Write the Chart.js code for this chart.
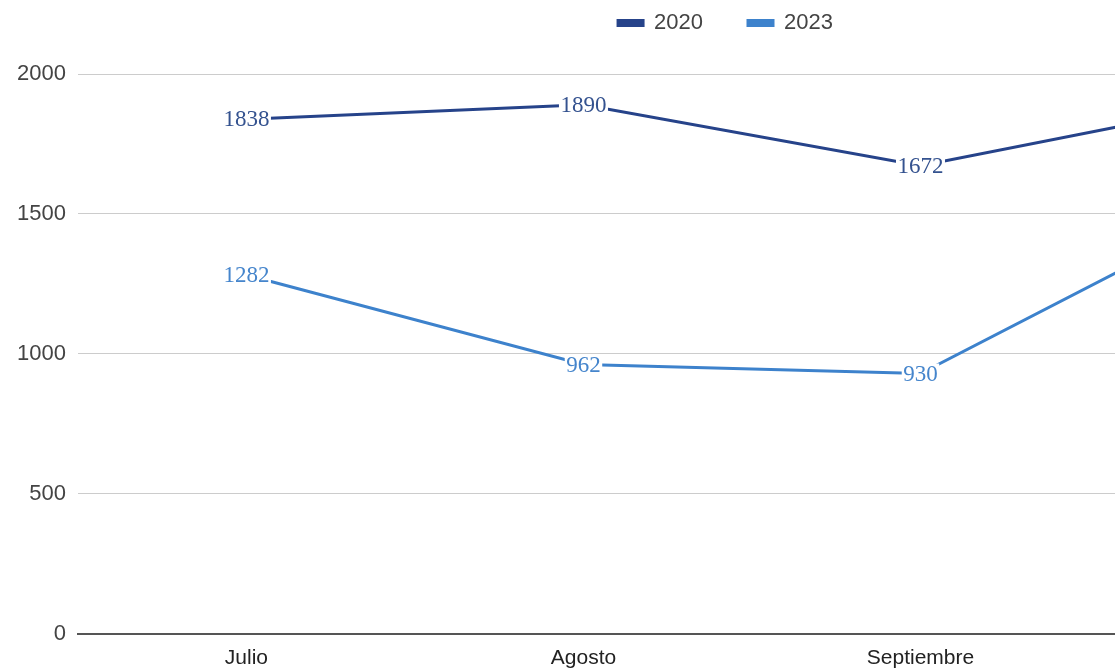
<!DOCTYPE html>
<html>
<head>
<meta charset="utf-8">
<script src="https://cdn.jsdelivr.net/npm/chart.js@4/dist/chart.umd.min.js"></script>
<style>
    html, body { margin: 0; padding: 0; background: #fff; overflow: hidden; }
    #wrap { width: 1448px; height: 670px; }
</style>
</head>
<body>
<div id="wrap"><canvas id="lineChart" width="1448" height="670"></canvas></div>
<script>
// Chart data
const months = ['Julio', 'Agosto', 'Septiembre', 'Octubre'];
const values2020 = [1838, 1890, 1672, 1910];
const values2023 = [1282, 962, 930, 1550];
const yTicks = [0, 500, 1000, 1500, 2000];

const color2020 = '#26438a';
const color2023 = '#3d82cc';

// Draw the value next to every point, on a white box
const valueLabels = {
    id: 'valueLabels',
    afterDatasetsDraw(chart) {
        const ctx = chart.ctx;
        ctx.save();
        ctx.font = '23px "Liberation Serif", "Times New Roman", serif';
        ctx.textAlign = 'center';
        ctx.textBaseline = 'middle';
        chart.data.datasets.forEach((ds, i) => {
            const meta = chart.getDatasetMeta(i);
            meta.data.forEach((pt, j) => {
                const text = String(ds.data[j]);
                const w = ctx.measureText(text).width + 3;
                ctx.fillStyle = '#fff';
                ctx.fillRect(pt.x - w / 2, pt.y - 10, w, 20);
                ctx.fillStyle = ds.labelColor;
                ctx.fillText(text, pt.x, pt.y + 1);
            });
        });
        ctx.restore();
    }
};

// Nudge the legend a bit to the right, chart area stays where it is
const legendShift = {
    id: 'legendShift',
    afterLayout(chart) {
        chart.legend.left += 10;
        chart.legend.right += 10;
    }
};

new Chart(document.getElementById('lineChart').getContext('2d'), {
    type: 'line',
    data: {
        labels: months,
        datasets: [{
            label: '2020',
            data: values2020,
            borderColor: color2020,
            backgroundColor: color2020,
            labelColor: '#34528f',
            borderWidth: 3,
            pointRadius: 0,
            tension: 0
        }, {
            label: '2023',
            data: values2023,
            borderColor: color2023,
            backgroundColor: color2023,
            labelColor: '#4585cc',
            borderWidth: 3,
            pointRadius: 0,
            tension: 0
        }]
    },
    options: {
        responsive: false,
        animation: false,
        layout: { padding: { left: 5, right: 22, top: -33, bottom: -13 } },
        plugins: {
            tooltip: { enabled: false },
            legend: {
                position: 'top',
                labels: {
                    boxWidth: 25,
                    boxHeight: 5,
                    padding: 45,
                    color: '#444',
                    font: { family: '"Liberation Sans", Arial, sans-serif', size: 22 }
                }
            },
            // empty title, only used as a gap between legend and plot
            title: {
                display: true,
                text: ' ',
                weight: 500,
                font: { size: 10 },
                padding: { top: 0, bottom: 18 }
            }
        },
        scales: {
            x: {
                offset: true,
                grid: { display: false, drawTicks: false },
                border: { display: true, color: '#555', width: 2 },
                ticks: {
                    color: '#222',
                    padding: 12,
                    font: { family: '"Liberation Sans", Arial, sans-serif', size: 21 }
                }
            },
            y: {
                min: 0,
                max: 2000,
                afterBuildTicks(scale) {
                    scale.ticks = yTicks.map(v => ({ value: v }));
                },
                grid: { color: '#ccc', lineWidth: 1, drawTicks: false },
                border: { display: false },
                ticks: {
                    color: '#444',
                    padding: 12,
                    callback: v => String(v),
                    font: { family: '"Liberation Sans", Arial, sans-serif', size: 22 }
                }
            }
        }
    },
    plugins: [valueLabels, legendShift]
});
</script>
</body>
</html>
